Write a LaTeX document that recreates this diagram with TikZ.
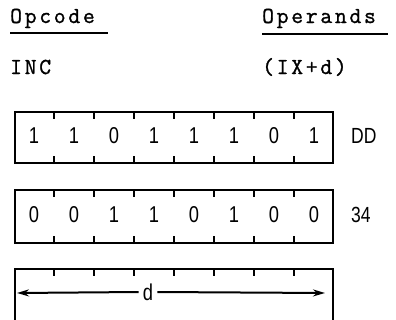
\documentclass[tikz,border=0pt]{standalone}
\usepackage{fontspec}
\usetikzlibrary{arrows.meta,calc}
\newfontfamily\twfont[LetterSpace=12,FakeBold=1.2]{Latin Modern Mono}
\newfontfamily\digfont[FakeStretch=0.8]{Liberation Sans}
\begin{document}
\begin{tikzpicture}[x=1bp,y=-1bp,
  hdr/.style={font=\twfont\fontsize{23}{23}\selectfont, anchor=base west, inner sep=0pt},
  bitbox/.style={draw, line width=2bp, minimum width=318bp, inner sep=0pt, anchor=north west},
  tick/.style={line width=1.5bp},
  bit/.style={font=\digfont\fontsize{23}{23}\selectfont, inner sep=0pt},
  hexlab/.style={font=\digfont\fontsize{22}{22}\selectfont, inner sep=0pt, anchor=west},
  uline/.style={line width=1.4bp}]
\clip (0,0) rectangle (396,320);
\useasboundingbox (0,0) rectangle (396,320);

% headers
\node[hdr] (opc) at (10,23) {Opcode};
\node[hdr] (opr) at (262,23) {Operands};
\node[hdr] (inc) at (10,74) {INC};
\node[hdr] (arg) at (262,74) {(IX+d)};
\coordinate (u1a) at (10,33); \coordinate (u1b) at (108,33);
\coordinate (u2a) at (262,34); \coordinate (u2b) at (388,34);
\draw[uline] (u1a) -- (u1b);
\draw[uline] (u2a) -- (u2b);

% boxes
\node[bitbox, minimum height=51bp] (b1) at (14,111) {};
\node[bitbox, minimum height=53bp] (b2) at (14,189) {};
\node[bitbox, minimum height=60bp] (b3) at (14,268) {};

\foreach \b in {b1,b2,b3}{
  \foreach \i in {1,...,7}{
    \draw[tick] ($(\b.north west)!\i/8!(\b.north east)$) -- ++(0,8);
    \draw[tick] ($(\b.south west)!\i/8!(\b.south east)$) -- ++(0,-8);
  }
}

% bits
\foreach \v [count=\i] in {1,1,0,1,1,1,0,1}{
  \node[bit] at ($(b1.west)!{(\i-0.5)/8}!(b1.east)+(0,-1.5)$) {\v};
}
\foreach \v [count=\i] in {0,0,1,1,0,1,0,0}{
  \node[bit] at ($(b2.west)!{(\i-0.5)/8}!(b2.east)+(0,-1.5)$) {\v};
}
\node[hexlab] (dd) at (351,136) {DD};
\node[hexlab] (h34) at (351,215) {34};

% displacement arrow
\node[bit, fill=white, inner xsep=4bp] (d) at (148,292) {d};
\coordinate (al) at (17,293);
\coordinate (ar) at (325,293);
\draw[line width=2bp, -{Stealth[length=12bp,width=7bp]}] (d.west) -- (al);
\draw[line width=2bp, -{Stealth[length=12bp,width=7bp]}] (d.east) -- (ar);
\end{tikzpicture}
\end{document}
